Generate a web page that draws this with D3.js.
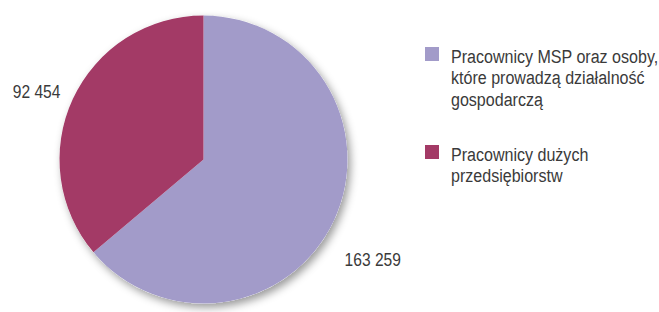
<!DOCTYPE html>
<meta charset="utf-8">
<style>
  body { margin: 0; background: #fff; }
  svg { font-family: "Liberation Sans Narrow", "Arial Narrow", "Liberation Sans", Arial, sans-serif; }
  text { fill: #3a3a3a; }
</style>
<svg width="659" height="312"></svg>
<script src="https://d3js.org/d3.v7.min.js"></script>
<script>
var categories = ["Pracownicy MSP oraz osoby, które prowadzą działalność gospodarczą", "Pracownicy dużych przedsiębiorstw"];
var values = [163259, 92454];
var valueLabels = ["163 259", "92 454"];
var legendLines = [
  ["Pracownicy MSP oraz osoby,", "które prowadzą działalność", "gospodarczą"],
  ["Pracownicy dużych", "przedsiębiorstw"]
];
var colors = ["#a29bc9", "#a33a66"];

var svg = d3.select("svg");

var cx = 203.5, cy = 159.5, r = 144;
var narrow = 0.82; // horizontal squeeze to mimic a narrow face

// soft shadow under the pie
var defs = svg.append("defs");
var f = defs.append("filter").attr("id", "shadow")
    .attr("x", "-20%").attr("y", "-20%").attr("width", "140%").attr("height", "140%");
f.append("feDropShadow")
    .attr("dx", 3).attr("dy", 4)
    .attr("stdDeviation", 4)
    .attr("flood-color", "#000")
    .attr("flood-opacity", 0.4);

var data = categories.map(function(c, i) {
  return { name: c, value: values[i], label: valueLabels[i], color: colors[i] };
});

var pie = d3.pie()
    .sort(null)
    .value(function(d) { return d.value; });

var arc = d3.arc().innerRadius(0).outerRadius(r);

var g = svg.append("g").attr("transform", "translate(" + cx + "," + cy + ")");

var arcs = pie(data);

g.append("circle").attr("r", r).attr("fill", "#fff").attr("filter", "url(#shadow)");

g.selectAll("path.slice")
  .data(arcs)
  .enter().append("path")
    .attr("class", "slice")
    .attr("d", arc)
    .attr("fill", function(d) { return d.data.color; });

// value labels outside the pie
var labelArc = d3.arc().innerRadius(r + 16).outerRadius(r + 16);
var labelShift = [[-4, 32], [2, -1]];
var labelAnchor = ["start", "end"];

g.selectAll("text.val")
  .data(arcs)
  .enter().append("text")
    .attr("class", "val")
    .attr("transform", function(d, i) {
      var c = labelArc.centroid(d);
      return "translate(" + (c[0] + labelShift[i][0]) + "," + (c[1] + labelShift[i][1]) + ") scale(" + narrow + ",1)";
    })
    .attr("dy", "0.35em")
    .attr("text-anchor", function(d, i) { return labelAnchor[i]; })
    .style("font-size", "19px")
    .text(function(d) { return d.data.label; });

// legend
var legendY = [47, 145];
var legend = svg.selectAll("g.legend")
  .data(data)
  .enter().append("g")
    .attr("class", "legend")
    .attr("transform", function(d, i) { return "translate(425," + legendY[i] + ")"; });

legend.append("rect")
    .attr("width", 14)
    .attr("height", 14)
    .attr("fill", function(d) { return d.color; });

legend.each(function(d, i) {
  var t = d3.select(this).append("text")
      .attr("transform", "translate(26,16) scale(0.845,1)")
      .style("font-size", "19px");
  legendLines[i].forEach(function(line, j) {
    t.append("tspan")
      .attr("x", 0)
      .attr("dy", j === 0 ? 0 : 21.5)
      .text(line);
  });
});
</script>
